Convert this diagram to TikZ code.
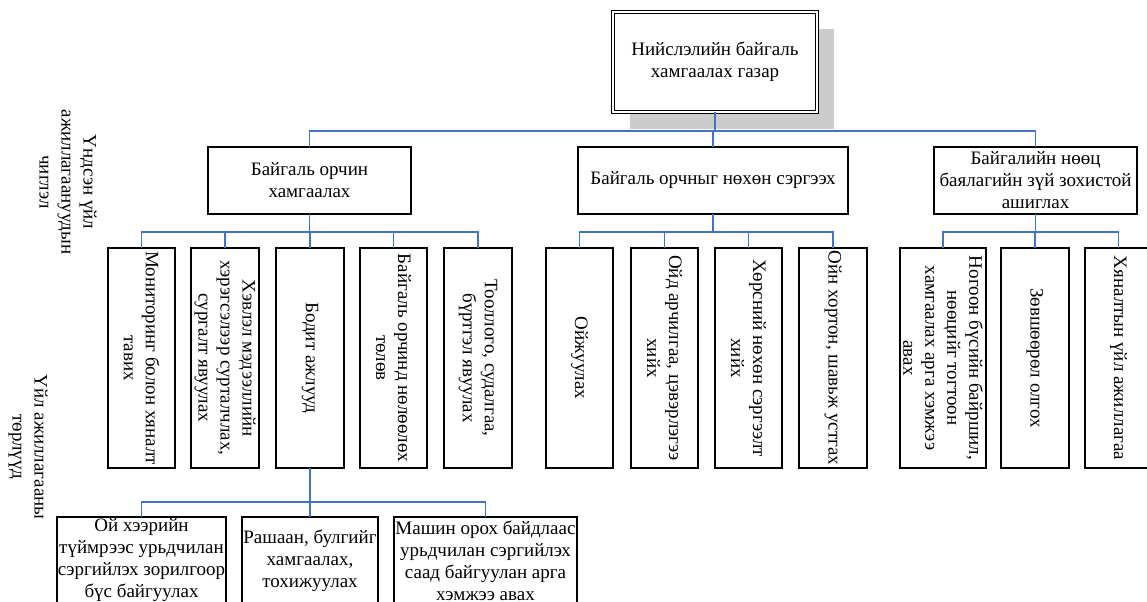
\documentclass[tikz,border=0pt]{standalone}
\usepackage{fontspec}
\setmainfont{Liberation Serif}
\definecolor{connblue}{HTML}{4472C4}
\newcommand\pxbox[6]{\node[box, minimum width={(#4-#2)*0.75pt}, minimum height={(#5-#3)*0.75pt}] (#1) at ({(#2+#4)/2},{(#3+#5)/2}) {#6};}
\newcommand\pxleaf[6]{\pxbox{#1}{#2}{#3}{#4}{#5}{}\node[vtext] (#1t) at (#1.center) {#6};}
\begin{document}
\begin{tikzpicture}[x=0.75pt,y=-0.75pt,
  every node/.style={font=\fontsize{14.25}{16.5}\selectfont, inner sep=0pt, outer sep=0pt, align=center},
  box/.style={draw=black, line width=0.9pt, fill=white},
  conn/.style={draw=connblue, line width=0.9pt},
  vtext/.style={rotate=-90, align=center}]
\useasboundingbox (0,0) rectangle (1147,601);
% top
\fill[black!20] (630,29) rectangle (834,129);
\node[draw=black, line width=0.7pt, double=white, double distance=1.6pt, fill=white,
  minimum width={(817-613)*0.75pt}, minimum height={(112-12)*0.75pt}] (top) at (715,62)
  {Нийслэлийн байгаль\\хамгаалах газар};
% middle
\pxbox{m1}{208}{147}{411}{214}{Байгаль орчин\\хамгаалах}
\pxbox{m2}{578}{147}{848}{214}{Байгаль орчныг нөхөн сэргээх}
\pxbox{m3}{934}{147}{1137}{214}{Байгалийн нөөц\\баялагийн зүй зохистой\\ашиглах}
% leaves group 1
\pxleaf{l11}{108}{248}{175}{468}{Мониторинг болон хяналт\\тавих}
\pxleaf{l12}{191}{248}{259}{468}{Хэвлэл мэдээллийн\\хэрэгсэлээр сурталчлах,\\сургалт явуулах}
\pxleaf{l13}{276}{248}{344}{468}{Бодит ажлууд}
\pxleaf{l14}{360}{248}{427}{468}{Байгаль орчинд нөлөөлөх\\төлөв}
\pxleaf{l15}{444}{248}{512}{468}{Тооллого, судалгаа,\\бүртгэл явуулах}
% leaves group 2
\pxleaf{l21}{546}{248}{613}{468}{Ойжуулах}
\pxleaf{l22}{631}{248}{698}{468}{Ойд арчилгаа, цэвэрлэгээ\\хийх}
\pxleaf{l23}{715}{248}{782}{468}{Хөрсний нөхөн сэргээлт\\хийх}
\pxleaf{l24}{799}{248}{867}{468}{Ойн хортон, шавьж устгах}
% leaves group 3
\pxleaf{l31}{900}{248}{986}{468}{Ногоон бүсийн байршил,\\нөөцийг тогтоон\\хамгаалах арга хэмжээ\\авах}
\pxleaf{l32}{1001}{248}{1069}{468}{Зөвшөөрөл олгох}
\pxleaf{l33}{1085}{248}{1152}{468}{Хяналтын үйл ажиллагаа}
% bottom
\pxbox{bA}{57}{517}{226}{604}{Ой хээрийн\\түймрээс урьдчилан\\сэргийлэх зорилгоор\\бүс байгуулах}
\pxbox{bB}{242}{517}{378}{604}{Рашаан, булгийг\\хамгаалах,\\тохижуулах}
\pxbox{bC}{394}{517}{577}{604}{Машин орох байдлаас\\урьдчилан сэргийлэх\\саад байгуулан арга\\хэмжээ авах}
% side labels
\node[vtext] (lab1) at (68,182) {Үндсэн үйл\\ажиллагаануудын\\чиглэл};
\node[vtext] (lab2) at (28,447) {Үйл ажиллагааны\\төрлүүд};
% connectors
\coordinate (b0) at (0,131);
\coordinate (b1) at (0,232);
\coordinate (b2) at (0,502);
\foreach \c in {m1,m2,m3} \draw[conn] (top.south) -- (top.south |- b0) -| (\c.north);
\foreach \c in {l11,l12,l13,l14,l15} \draw[conn] (m1.south) -- (m1.south |- b1) -| (\c.north);
\foreach \c in {l21,l22,l23,l24} \draw[conn] (m2.south) -- (m2.south |- b1) -| (\c.north);
\foreach \c in {l31,l32,l33} \draw[conn] (m3.south) -- (m3.south |- b1) -| (\c.north);
\foreach \c in {bA,bB,bC} \draw[conn] (l13.south) -- (l13.south |- b2) -| (\c.north);
\end{tikzpicture}
\end{document}
